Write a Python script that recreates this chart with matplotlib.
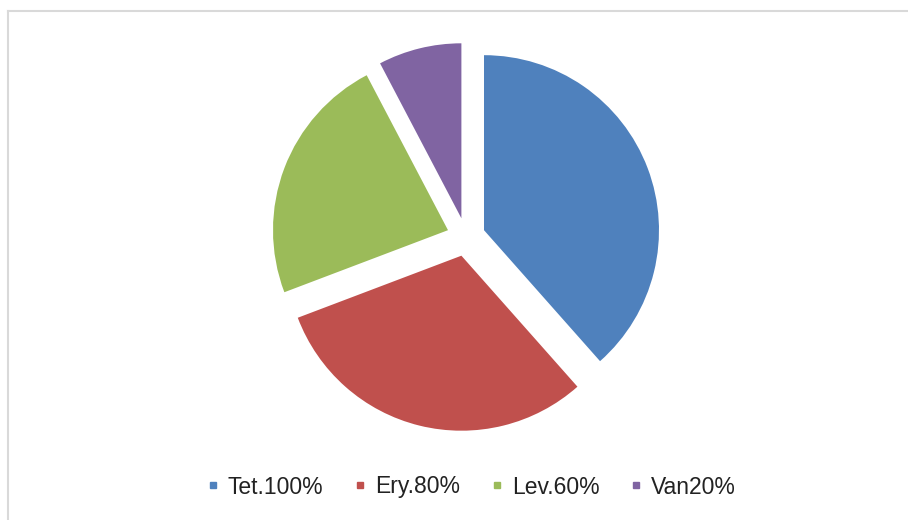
import matplotlib
matplotlib.use("Agg")
import matplotlib.pyplot as plt
from matplotlib.lines import Line2D

categories = ["Tet.100%", "Ery.80%", "Lev.60%", "Van20%"]
values = [100, 80, 60, 20]
colors = ["#4F81BD", "#C0504D", "#9BBB59", "#8064A2"]

plt.rcParams['font.family'] = ['Liberation Sans', 'DejaVu Sans']

fig = plt.figure(figsize=(9.08, 5.2), dpi=100)
fig.patch.set_facecolor("white")

# partial frame (top and left border)
fig.add_artist(Line2D([8/908, 1], [1-11/520, 1-11/520], color="#D9D9D9", lw=1.5))
fig.add_artist(Line2D([8/908, 8/908], [0, 1-11/520], color="#D9D9D9", lw=1.5))

cx, cy, half = 466, 237, 210
ax = fig.add_axes([(cx-half)/908, (520-cy-half)/520, 2*half/908, 2*half/520])
ax.pie(values, colors=colors, startangle=90, counterclock=False,
       explode=[0.11]*4, radius=1.0,
       wedgeprops=dict(linewidth=0))
ax.set_xlim(-1.2, 1.2)
ax.set_ylim(-1.2, 1.2)
ax.set_aspect("equal")
ax.axis("off")

handles = [Line2D([0], [0], marker="s", linestyle="", markersize=5,
                  markerfacecolor=c, markeredgecolor=c) for c in colors]
fig.legend(handles, categories, loc="center", bbox_to_anchor=(471/908, 1-487/520),
           ncol=4, frameon=False, fontsize=16.5, handletextpad=0.36,
           columnspacing=1.3, handlelength=0.6, labelcolor="#222222")

fig.savefig("out.png", dpi=100)
